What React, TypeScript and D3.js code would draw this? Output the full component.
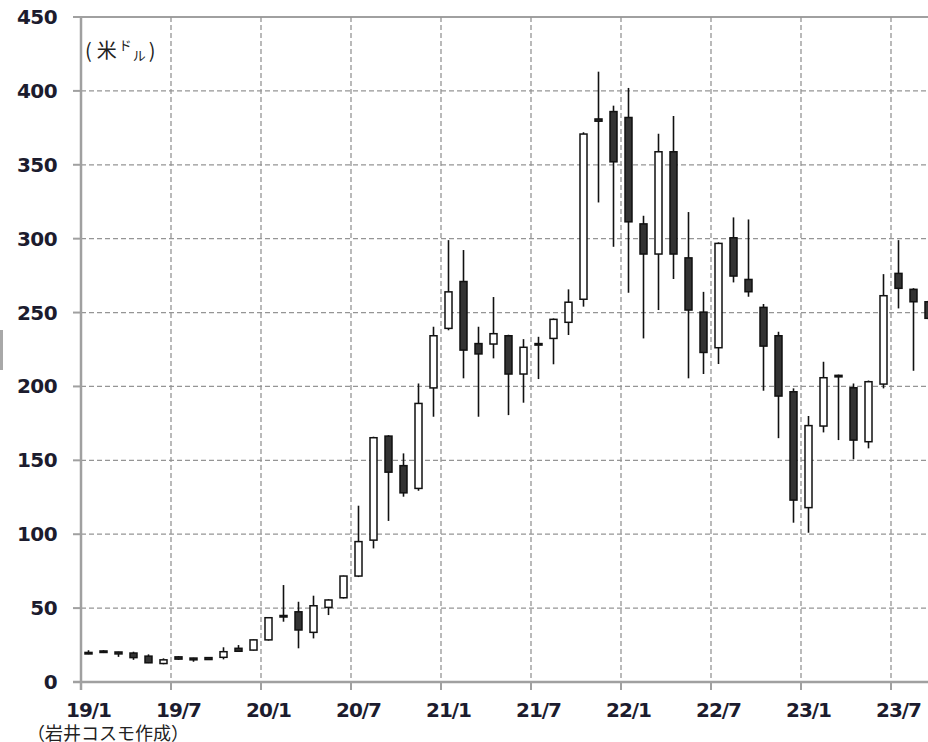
import React from 'react';
import * as d3 from 'd3';

// monthly candles, 2019/1 - 2023/9 (USD)
const months = [
  '19/1', '19/2', '19/3', '19/4', '19/5', '19/6', '19/7', '19/8', '19/9', '19/10', '19/11', '19/12',
  '20/1', '20/2', '20/3', '20/4', '20/5', '20/6', '20/7', '20/8', '20/9', '20/10', '20/11', '20/12',
  '21/1', '21/2', '21/3', '21/4', '21/5', '21/6', '21/7', '21/8', '21/9', '21/10', '21/11', '21/12',
  '22/1', '22/2', '22/3', '22/4', '22/5', '22/6', '22/7', '22/8', '22/9', '22/10', '22/11', '22/12',
  '23/1', '23/2', '23/3', '23/4', '23/5', '23/6', '23/7', '23/8', '23/9',
];
const open = [
  20, 21, 20.3, 19.6, 17.5, 12.5, 17, 16.2, 16.5, 16.7, 22.8, 21.6,
  28.5, 45, 47.5, 33.6, 50.5, 57, 71.7, 96, 166.4, 146.4, 131, 199,
  239.3, 271, 229, 228.7, 234.3, 208.4, 228, 232.5, 243.4, 259, 381, 386,
  382, 310, 289.6, 358.8, 287, 250.3, 226.2, 300.6, 272.4, 253.5, 234.3, 196.4,
  118, 173.2, 207.5, 199.1, 162.6, 201.6, 276.5, 265.7, 257.3,
];
const high = [
  21.5, 21.5, 20.5, 20.5, 18.7, 16, 17.5, 16.4, 16.8, 23.5, 25, 28.9,
  44, 65.6, 54.3, 58.4, 56, 72, 119.3, 166, 167, 154.7, 202, 240.4,
  299, 292.3, 240.4, 260.5, 235, 232, 233.6, 246, 265.7, 372, 413, 390,
  402, 315.5, 371, 383, 318, 264, 297.5, 314.4, 313, 255.8, 237, 198.7,
  180, 216.7, 208, 202, 204, 276, 299, 266.5, 258,
];
const low = [
  18.8, 19.6, 17, 15, 12.8, 12, 15, 13.7, 15, 15.3, 20.3, 21.3,
  28, 40.8, 22.8, 29.5, 45.3, 56.5, 71, 90.4, 109, 125.4, 129.4, 179.5,
  238, 205.5, 179.5, 219, 180.6, 189, 205, 215, 234.8, 254, 324.5, 294.5,
  263.4, 232.5, 251.7, 272.7, 205.5, 208.4, 215.2, 270.4, 260.7, 197.1, 165, 107.8,
  101, 168.9, 163.7, 150.7, 158.1, 198.7, 252.8, 210.6, 245.5,
];
const close = [
  19.3, 20, 19, 16.5, 13, 15, 15.5, 15, 15.2, 20.5, 20.8, 28.5,
  43.5, 44, 35.2, 51.6, 55.5, 71.7, 95, 165.3, 142, 128, 188.5, 234.3,
  264, 224.6, 222, 235.7, 208.4, 226.5, 229, 245.4, 257, 370.8, 379.5, 352,
  311.4, 289.6, 358.8, 289.6, 251.7, 223, 296.8, 274.7, 264.1, 227.3, 193.5, 123.1,
  173.5, 205.9, 207, 163.7, 203.2, 261.4, 266.4, 257.3, 246.1,
];
const yTicks = [0, 50, 100, 150, 200, 250, 300, 350, 400, 450];
const xTickLabels = ['19/1', '19/7', '20/1', '20/7', '21/1', '21/7', '22/1', '22/7', '23/1', '23/7'];

const W = 928;
const H = 742;
const left = 81;
const top = 17;
const bottom = 682;
const step = 15;

const App = () => {
  const x = d3.scaleLinear().domain([0, months.length]).range([left, left + months.length * step]);
  const y = d3.scaleLinear().domain([0, 450]).range([bottom, top]);
  const bodyW = 7;
  const labelFont = "'DejaVu Sans', Verdana, sans-serif";
  const textColor = '#1c1c2e';
  const gridColor = '#959595';

  return (
    <div style={{ position: 'absolute', left: 0, top: 0 }}>
      <svg width={W} height={H} style={{ display: 'block', background: '#fff' }}>
        {/* stray mark at left edge */}
        <rect x={0} y={330} width={3} height={40} fill="#a8a8a8" />

        {/* horizontal grid */}
        {yTicks.map((t) => (
          <g key={'h' + t}>
            {t > 0 && t < 450 && (
              <line x1={left} x2={W} y1={y(t)} y2={y(t)} stroke={gridColor} strokeWidth={1.3} strokeDasharray="5,3" />
            )}
            <line x1={left - 8} x2={left} y1={y(t)} y2={y(t)} stroke="#a0a0a0" strokeWidth={2} />
            <text
              x={57}
              y={y(t)}
              textAnchor="end"
              dominantBaseline="central"
              fontFamily={labelFont}
              fontWeight="bold"
              fontSize={20}
              fill={textColor}
              letterSpacing={-0.6}
            >
              {t}
            </text>
          </g>
        ))}
        <line x1={left} x2={W} y1={top} y2={top} stroke="#a0a0a0" strokeWidth={2} />

        {/* vertical grid */}
        {xTickLabels.map((lab) => {
          const i = months.indexOf(lab);
          const xp = x(i);
          return (
            <g key={'v' + lab}>
              {i > 0 && (
                <line x1={xp} x2={xp} y1={top} y2={bottom} stroke={gridColor} strokeWidth={1.3} strokeDasharray="5,3" />
              )}
              <line x1={xp} x2={xp} y1={bottom} y2={bottom + 8} stroke="#a0a0a0" strokeWidth={2} />
              <text
                x={xp + step / 2}
                y={717}
                textAnchor="middle"
                fontFamily={labelFont}
                fontWeight="bold"
                fontSize={20}
                fill={textColor}
                letterSpacing={-1}
              >
                {lab}
              </text>
            </g>
          );
        })}

        {/* axes */}
        <line x1={left} x2={left} y1={top} y2={bottom + 8} stroke="#a0a0a0" strokeWidth={2.5} />
        <line x1={left - 8} x2={W} y1={bottom} y2={bottom} stroke="#a0a0a0" strokeWidth={2.5} />

        {/* candles */}
        {months.map((m, i) => {
          const cx = x(i + 0.5);
          const o = open[i];
          const c = close[i];
          const up = c >= o;
          const yTop = y(Math.max(o, c));
          const yBot = y(Math.min(o, c));
          return (
            <g key={m}>
              <line x1={cx} x2={cx} y1={y(high[i])} y2={y(low[i])} stroke="#111" strokeWidth={1.6} />
              <rect
                x={cx - bodyW / 2}
                y={yTop}
                width={bodyW}
                height={Math.max(yBot - yTop, 1.5)}
                fill={up ? '#fff' : '#333'}
                stroke="#111"
                strokeWidth={1.5}
              />
            </g>
          );
        })}

        {/* unit label */}
        <text x={85} y={58} fontFamily="'Noto Sans CJK JP', sans-serif" fontSize={20} fill="#222">
          <tspan>(</tspan>
          <tspan dx={5}>米</tspan>
          <tspan fontSize={13} dx={2} dy={-8}>ド</tspan>
          <tspan fontSize={13} dx={1} dy={10}>ル</tspan>
          <tspan fontSize={20} dx={3} dy={-2}>)</tspan>
        </text>

        {/* source */}
        <text x={27} y={740} fontFamily="'Noto Sans CJK JP', sans-serif" fontSize={18} fill="#222">
          （岩井コスモ作成）
        </text>
      </svg>
    </div>
  );
};

export default App;
